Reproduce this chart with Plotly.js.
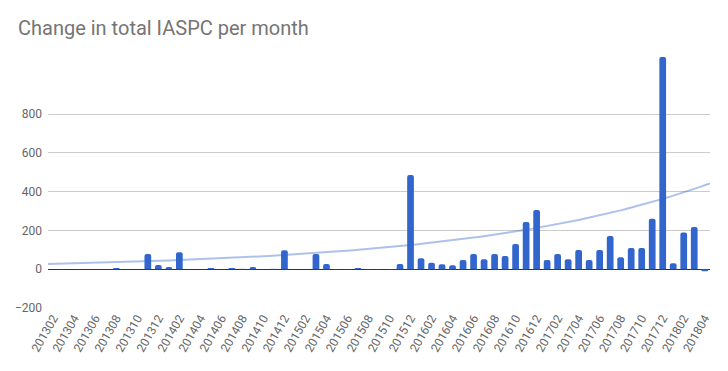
<!DOCTYPE html>
<html>
<head>
<meta charset="utf-8">
<script src="https://cdn.plot.ly/plotly-3.0.1.min.js"></script>
<style>html,body{margin:0;padding:0;background:#fff;}#chart{width:728px;height:371px;}</style>
</head>
<body>
<div id="chart"></div>
<script>
var months = [
  "201302","201303","201304","201305","201306","201307","201308","201309","201310","201311","201312",
  "201401","201402","201403","201404","201405","201406","201407","201408","201409","201410","201411","201412",
  "201501","201502","201503","201504","201505","201506","201507","201508","201509","201510","201511","201512",
  "201601","201602","201603","201604","201605","201606","201607","201608","201609","201610","201611","201612",
  "201701","201702","201703","201704","201705","201706","201707","201708","201709","201710","201711","201712",
  "201801","201802","201803","201804"
];
var changes = [
  0,0,0,0,0,0,6,0,0,78,22,
  12,88,0,0,6,0,6,2,12,0,2,98,
  0,0,79,27,1,1,6,1,1,1,27,486,
  57,33,26,21,47,78,52,78,68,130,244,306,
  47,78,52,99,47,99,171,62,109,109,260,1095,
  31,189,218,-10
];
var yTicks = [-200, 0, 200, 400, 600, 800];
// exponential trendline, values read at left and right plot edges
var trendStart = 27;
var trendEnd = 443;

var n = months.length;
var tickMonths = months.filter(function(m, i){ return i % 2 === 0; });
var tx = [], ty = [];
for (var k = 0; k <= 2 * n; k++) {
  var xpos = -0.5 + k * 0.5;
  var f = (xpos + 0.5) / n;
  tx.push(xpos);
  ty.push(trendStart * Math.pow(trendEnd / trendStart, f));
}

var bars = {
  type: 'bar', x: months, y: changes,
  marker: {color: '#3366cc', cornerradius: 2},
  hoverinfo: 'x+y', showlegend: false
};
var trend = {
  type: 'scatter', mode: 'lines', x: tx, y: ty, xaxis: 'x2',
  line: {color: 'rgba(51,102,204,0.4)', width: 2},
  hoverinfo: 'skip', showlegend: false
};

var layout = {
  width: 728, height: 371,
  margin: {l: 48, r: 18, t: 56, b: 63, pad: 0},
  paper_bgcolor: '#fff', plot_bgcolor: '#fff',
  font: {family: 'Roboto, Arial, sans-serif', size: 12, color: '#666'},
  title: {
    text: 'Change in total IASPC per month',
    font: {family: 'Roboto, Arial, sans-serif', size: 20, color: '#757575'},
    xref: 'container', yref: 'container', x: 18/728, xanchor: 'left', y: 1 - 28/371, yanchor: 'middle'
  },
  bargap: 0.36,
  xaxis: {
    type: 'category', tickmode: 'array', tickvals: tickMonths, ticktext: tickMonths,
    tickangle: -60, showgrid: false, zeroline: false, showline: false, ticks: '',
    tickfont: {size: 12, color: '#666'}, range: [-0.5, n - 0.5], fixedrange: true
  },
  xaxis2: {
    overlaying: 'x', range: [-0.5, n - 0.5], visible: false, fixedrange: true
  },
  yaxis: {
    range: [-200, 1100], tickmode: 'array', tickvals: yTicks,
    showgrid: true, gridcolor: '#cccccc', gridwidth: 1,
    zeroline: true, zerolinecolor: '#333333', zerolinewidth: 1,
    showline: false, ticks: '', ticklabelstandoff: 5,
    tickfont: {size: 12, color: '#666'}, fixedrange: true
  }
};

Plotly.newPlot('chart', [trend, bars], layout, {displayModeBar: false, staticPlot: true});
</script>
</body>
</html>
